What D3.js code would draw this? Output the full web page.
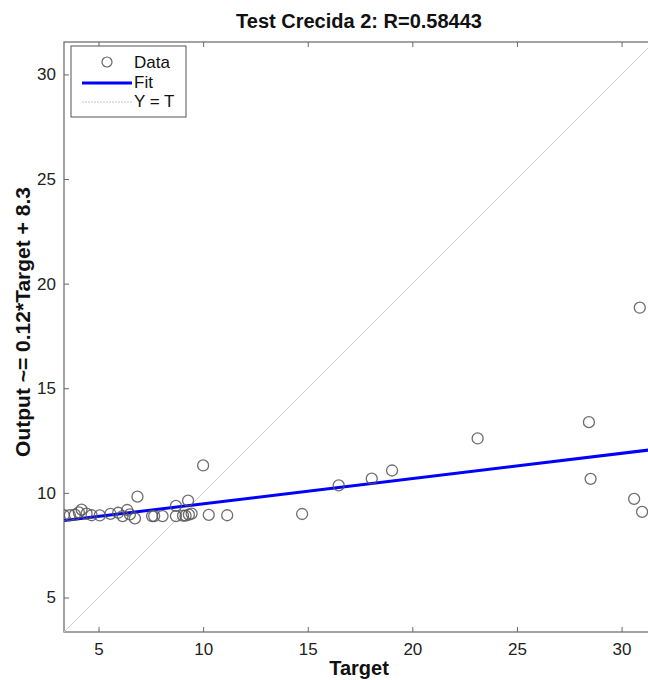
<!DOCTYPE html>
<html lang="en">
  <head>
    <meta charset="UTF-8" />
    <title>Test Crecida 2</title>
    <script src="https://cdn.jsdelivr.net/npm/d3@7"></script>
    <style>
      body { margin: 0; background: #fff; }
      text { font-family: 'Liberation Sans', Arial, sans-serif; }
    </style>
  </head>
  <body>
    <svg width="648" height="680"></svg>
  </body>

  <script>
    // target / output pairs
    var targets = [3.34, 3.63, 3.87, 4.06, 4.19, 4.43, 4.67, 5.06, 5.57, 5.94, 6.15, 6.37, 6.50, 6.74, 6.86,
      7.56, 7.66, 8.06, 8.70, 8.70, 9.04, 9.16, 9.28, 9.32, 9.45, 10.0, 10.27, 11.15, 14.73,
      16.48, 18.06, 19.03, 23.12, 28.44, 28.52, 30.60, 30.98, 30.87];
    var outputs = [8.93, 8.93, 8.96, 9.07, 9.20, 9.01, 8.93, 8.92, 9.00, 9.05, 8.89, 9.18, 8.97, 8.78, 9.82,
      8.89, 8.89, 8.89, 9.38, 8.89, 8.91, 8.91, 9.63, 8.96, 9.01, 11.31, 8.95, 8.93, 8.99,
      10.36, 10.68, 11.07, 12.60, 13.38, 10.67, 9.71, 9.09, 18.85];
    var ticks = [5, 10, 15, 20, 25, 30];
    var fitSlope = 0.1207;
    var fitIntercept = 8.27;
    var axisMin = 3.35, axisMax = 31.55;

    var svg = d3.select('svg');
    // plot box (right edge falls just past the picture)
    var pLeft = 64, pRight = 654, pTop = 42, pBottom = 632;

    var x = d3.scaleLinear().domain([axisMin, axisMax]).range([pLeft, pRight]);
    var y = d3.scaleLinear().domain([axisMin, axisMax]).range([pBottom, pTop]);

    svg.append('clipPath').attr('id', 'plot')
      .append('rect').attr('x', pLeft).attr('y', pTop).attr('width', pRight - pLeft).attr('height', pBottom - pTop);

    // ticks inside the box
    function tickStyle(g) {
      g.select('.domain').remove();
      g.selectAll('.tick line').attr('stroke', '#666');
      g.selectAll('.tick text').attr('fill', '#222').style('font-size', '17px');
    }
    svg.append('g').attr('transform', 'translate(0,' + pBottom + ')')
      .call(d3.axisBottom(x).tickValues(ticks).tickSizeInner(-5).tickPadding(11))
      .call(tickStyle);
    svg.append('g').attr('transform', 'translate(0,' + pTop + ')')
      .call(d3.axisTop(x).tickValues(ticks).tickSizeInner(-5).tickFormat(''))
      .call(tickStyle);
    svg.append('g').attr('transform', 'translate(' + pLeft + ',0)')
      .call(d3.axisLeft(y).tickValues(ticks).tickSizeInner(-5).tickPadding(8))
      .call(tickStyle);

    // frame
    svg.append('rect').attr('x', pLeft).attr('y', pTop).attr('width', pRight - pLeft).attr('height', pBottom - pTop)
      .attr('fill', 'none').attr('stroke', '#666').attr('stroke-width', 1.2);

    var plot = svg.append('g').attr('clip-path', 'url(#plot)');

    // Y = T
    plot.append('line')
      .attr('x1', x(axisMin)).attr('y1', y(axisMin))
      .attr('x2', x(axisMax)).attr('y2', y(axisMax))
      .attr('stroke', '#cfcfcf').attr('stroke-width', 1);

    // fit
    plot.append('line')
      .attr('x1', x(axisMin)).attr('y1', y(fitSlope * axisMin + fitIntercept))
      .attr('x2', x(axisMax)).attr('y2', y(fitSlope * axisMax + fitIntercept))
      .attr('stroke', '#0000ff').attr('stroke-width', 3);

    // data
    plot.selectAll('circle').data(targets).enter().append('circle')
      .attr('cx', function (d) { return x(d); })
      .attr('cy', function (d, i) { return y(outputs[i]); })
      .attr('r', 5.5)
      .attr('fill', 'none')
      .attr('stroke', '#555')
      .attr('stroke-opacity', 0.85)
      .attr('stroke-width', 1.3);

    // legend
    var lg = svg.append('g').attr('transform', 'translate(71,46)');
    lg.append('rect').attr('width', 115).attr('height', 71)
      .attr('fill', '#fff').attr('stroke', '#555').attr('stroke-width', 1);
    lg.append('circle').attr('cx', 36).attr('cy', 16).attr('r', 5)
      .attr('fill', 'none').attr('stroke', '#666').attr('stroke-width', 1.2);
    lg.append('line').attr('x1', 11).attr('x2', 61).attr('y1', 37).attr('y2', 37)
      .attr('stroke', '#0000ff').attr('stroke-width', 3);
    lg.append('line').attr('x1', 11).attr('x2', 61).attr('y1', 56).attr('y2', 56)
      .attr('stroke', '#c4c4c4').attr('stroke-width', 1).attr('stroke-dasharray', '2,1');
    var legendLabels = ['Data', 'Fit', 'Y = T'];
    lg.selectAll('.lbl').data(legendLabels).enter().append('text')
      .attr('x', 63).attr('y', function (d, i) { return 22 + i * 19.5; })
      .style('font-size', '17px').attr('fill', '#111')
      .text(function (d) { return d; });

    // title and axis labels
    svg.append('text').attr('x', 359).attr('y', 28).attr('text-anchor', 'middle')
      .style('font-size', '20px').style('font-weight', 'bold').attr('fill', '#111')
      .text('Test Crecida 2: R=0.58443');
    svg.append('text').attr('x', 359).attr('y', 675).attr('text-anchor', 'middle')
      .style('font-size', '20px').style('font-weight', 'bold').attr('fill', '#111')
      .text('Target');
    svg.append('text').attr('transform', 'translate(30,' + 322 + ') rotate(-90)').attr('text-anchor', 'middle')
      .style('font-size', '21px').style('font-weight', 'bold').attr('fill', '#111')
      .text('Output ~= 0.12*Target + 8.3');
  </script>
</html>
